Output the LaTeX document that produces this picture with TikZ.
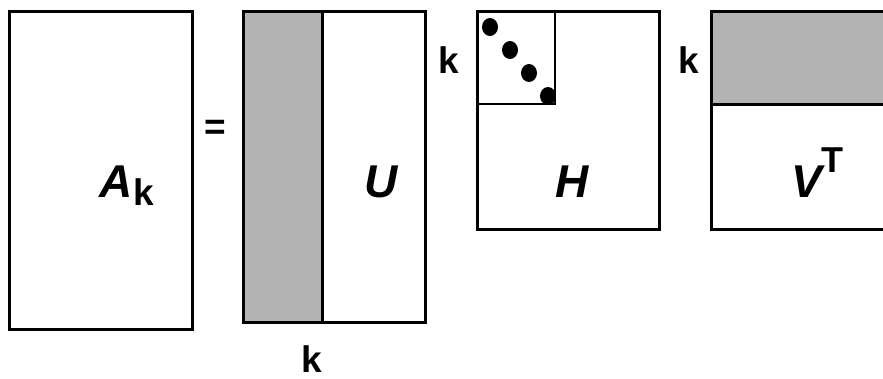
\documentclass[tikz,border=0pt]{standalone}
\usepackage{fontspec}
\setmainfont{Liberation Sans}
\definecolor{shade}{RGB}{179,179,179}
\begin{document}
\begin{tikzpicture}[x=1pt,y=-1pt,
  box/.style={draw=black, line width=3pt, fill=white},
  shaded/.style={draw=black, line width=3pt, fill=shade},
  thinline/.style={draw=black, line width=2pt},
  biglabel/.style={inner sep=0pt, font=\fontsize{46}{50}\selectfont\bfseries\itshape},
  klabel/.style={inner sep=0pt, font=\fontsize{37}{40}\selectfont\bfseries},
  suplabel/.style={inner sep=0pt, font=\fontsize{36}{38}\selectfont\bfseries}]
\useasboundingbox (0,0) rectangle (883,378);
\clip (0,0) rectangle (883,378);
% A_k
\draw[box] (9,11) rectangle (192,329);
\node[biglabel, anchor=base west] (A) at (99,197) {A};
\node[klabel, anchor=base west] (Ak) at ([xshift=1pt,yshift=-8pt]A.base east) {k};
% equals
\node[klabel, anchor=center] (eq) at (215.5,129.5) {=};
% U
\draw[shaded] (243,11) rectangle (322,322);
\draw[box] (322,11) rectangle (425,322);
\draw[line width=3pt] (243,11) rectangle (425,322);
\node[biglabel, anchor=base] (U) at (381,197) {U};
\node[klabel, anchor=base, text depth=0pt] (kU) at (312,372) {k};
% H
\draw[box] (477,11) rectangle (659,229);
\draw[thinline] (477,104) -- (555,104) -- (555,11);
\fill (490,27) ellipse (8pt and 9pt);
\fill (510,50) ellipse (8pt and 9pt);
\fill (529,73) ellipse (8pt and 9pt);
\begin{scope}
\clip (477,11) rectangle (556,105);
\fill (548,96) ellipse (8pt and 9pt);
\end{scope}
\node[biglabel, anchor=base] (H) at (572,197) {H};
\node[klabel, anchor=center] (kH) at (449,60) {k};
% V^T
\draw[box] (711,11) rectangle (894,229);
\draw[shaded] (711,11) rectangle (894,104);
\node[biglabel, anchor=base west] (V) at (791,197) {V};
\node[suplabel, anchor=base west] (T) at (821,172) {T};
\node[klabel, anchor=center] (kV) at (689,60) {k};
\end{tikzpicture}
\end{document}
